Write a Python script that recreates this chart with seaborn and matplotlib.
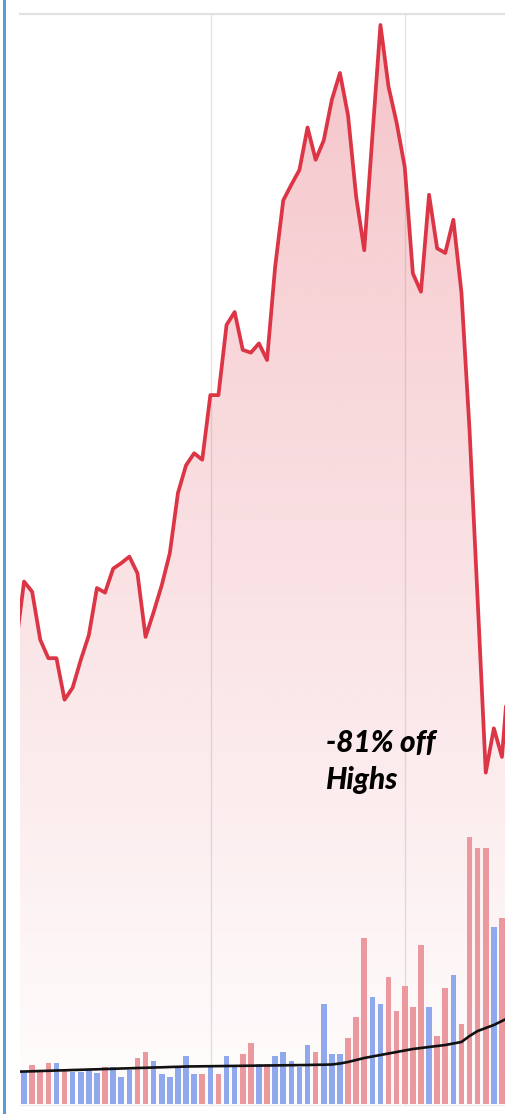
import numpy as np
import pandas as pd
import matplotlib
matplotlib.use("Agg")
import matplotlib.pyplot as plt
import seaborn as sns
from matplotlib.patches import Rectangle, Polygon
from matplotlib.colors import to_rgb

# ---------------- data ----------------
price_idx = list(range(-1, 61))
price = [32.8, 39.7, 38.6, 33.4, 31.4, 31.4, 26.9, 28.2, 31.2, 33.9,
         39.0, 38.5, 41.1, 41.7, 42.4, 40.6, 33.7, 36.4, 39.3, 42.8,
         49.3, 52.3, 53.6, 52.9, 59.9, 59.9, 67.5, 68.9, 64.8, 64.5,
         65.5, 63.7, 73.8, 81.0, 82.7, 84.3, 88.9, 85.4, 87.5, 91.9,
         94.8, 90.2, 81.4, 75.6, 87.9, 100.0, 93.3, 89.4, 84.6, 73.1,
         71.1, 81.6, 75.8, 75.3, 78.9, 71.0, 56.1, 37.7, 19.0, 23.8,
         20.7, 31.7]

vol_idx = list(range(0, 60))
volume = [3.2, 3.9, 3.2, 4.1, 4.1, 3.4, 3.2, 3.2, 3.5, 3.1,
          3.7, 3.7, 2.7, 3.4, 4.6, 5.2, 4.3, 3.0, 2.7, 3.6,
          4.8, 3.0, 3.0, 3.7, 3.0, 4.8, 3.7, 5.0, 6.1, 4.0,
          4.0, 4.8, 5.2, 4.3, 3.7, 5.9, 5.2, 10.0, 5.0, 5.0,
          6.6, 8.7, 16.6, 10.7, 10.0, 12.7, 9.3, 11.8, 9.7, 15.9,
          9.7, 6.8, 11.6, 12.9, 8.0, 26.7, 25.6, 25.6, 17.7, 18.6]
direction = ["up", "down", "down", "down", "up", "down", "up", "up", "up", "up",
             "down", "up", "up", "up", "down", "down", "up", "up", "up", "up",
             "up", "up", "down", "up", "down", "up", "up", "down", "down", "up",
             "down", "up", "up", "up", "up", "up", "down", "up", "up", "up",
             "down", "down", "down", "up", "up", "down", "down", "down", "down", "down",
             "up", "down", "down", "up", "down", "down", "down", "down", "up", "down"]

vol_ma = [3.23, 3.25, 3.27, 3.30, 3.32, 3.35, 3.37, 3.40, 3.42, 3.45,
          3.47, 3.50, 3.52, 3.55, 3.57, 3.60, 3.62, 3.65, 3.67, 3.70,
          3.72, 3.75, 3.76, 3.77, 3.78, 3.79, 3.80, 3.81, 3.82, 3.83,
          3.84, 3.85, 3.86, 3.87, 3.88, 3.89, 3.90, 3.92, 3.93, 3.95,
          4.05, 4.20, 4.40, 4.60, 4.75, 4.90, 5.05, 5.20, 5.35, 5.50,
          5.60, 5.70, 5.80, 5.90, 6.05, 6.20, 6.80, 7.30, 7.60, 7.90,
          8.30, 8.70]

grid_x = [23.1, 47.0]
note_lines = ["-81% off", "Highs"]

# ---------------- figure ----------------
W, H = 506, 1114
sns.set_style("white")
fig = plt.figure(figsize=(W / 100, H / 100), dpi=100)
fig.patch.set_facecolor("white")
ax = fig.add_axes([20 / W, 9 / H, 486 / W, 1091 / H])
ax2 = ax.twinx()

line_color = "#dc3545"
price_lim = (-17.01, 101.19)
x_lim = (-0.5, 59.5)

# price line
dfp = pd.DataFrame({"idx": price_idx, "price": price})
sns.lineplot(data=dfp, x="idx", y="price", ax=ax, color=line_color,
             linewidth=2.7, zorder=5)

# gradient fill under the price line
verts = list(zip(price_idx, price)) + [(price_idx[-1], price_lim[0]),
                                       (price_idx[0], price_lim[0])]
clip = Polygon(verts, closed=True, facecolor="none", edgecolor="none")
ax.add_patch(clip)
n = 256
grad = np.zeros((n, 1, 4))
grad[:, 0, :3] = to_rgb(line_color)
grad[:, 0, 3] = np.linspace(0.29, 0.011, n)
im = ax.imshow(grad, extent=[price_idx[0], price_idx[-1], price_lim[0], price_lim[1]],
               aspect="auto", origin="upper", zorder=2, interpolation="bilinear")
im.set_clip_path(clip)

# grid / spines
ax.set_xticks(grid_x)
ax.set_yticks([])
ax.grid(axis="x", color="#e4e4e4", linewidth=1.0)
ax.tick_params(length=0, labelbottom=False, labelleft=False)
for s in ["left", "right"]:
    ax.spines[s].set_visible(False)
ax.spines["top"].set_color("#e2e2e2")
ax.spines["top"].set_linewidth(1.6)
ax.spines["bottom"].set_color("#eeeeee")
ax.spines["bottom"].set_linewidth(1.0)

# volume bars + moving average
dfv = pd.DataFrame({"idx": vol_idx, "volume": volume, "dir": direction})
sns.barplot(data=dfv, x="idx", y="volume", hue="dir",
            palette={"up": "#8fa8ee", "down": "#eb989f"},
            native_scale=True, dodge=False, width=0.68, errorbar=None,
            legend=False, saturation=1, ax=ax2, linewidth=0, edgecolor="none")
sns.lineplot(x=price_idx, y=vol_ma, ax=ax2, color="#111111", linewidth=1.9)

for s in ax2.spines.values():
    s.set_visible(False)
ax2.set_yticks([])
ax2.tick_params(length=0, labelright=False, labelbottom=False)

for a in (ax, ax2):
    a.set_xlabel("")
    a.set_ylabel("")
    a.set_xlim(x_lim)
ax.set_ylim(price_lim)
ax2.set_ylim(-0.1, 109.0)
ax.set_xticks(grid_x)

# left blue border
fig.add_artist(Rectangle((3 / W, 0), 3 / W, 1, transform=fig.transFigure,
                         facecolor="#5b9bd5", edgecolor="none"))

# annotation
fs = 21.4
for txt, base in zip(note_lines, [752.0, 788.5]):
    fig.text(326.0 / W, 1 - base / H, txt, fontsize=fs, fontfamily="Lato",
             fontweight=900, fontstyle="italic", va="baseline", ha="left",
             color="black")

fig.savefig("out.png", dpi=100)
